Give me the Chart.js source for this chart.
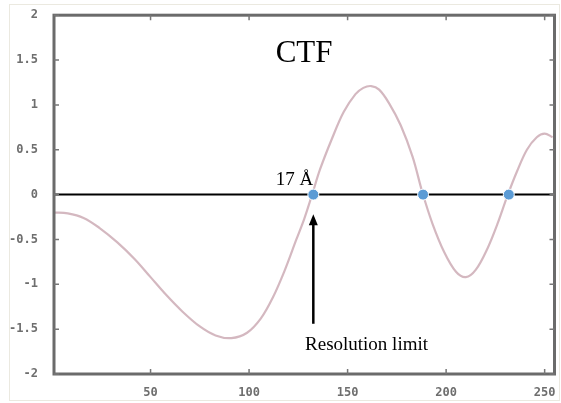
<!DOCTYPE html>
<html>
<head>
<meta charset="utf-8">
<script src="https://cdn.jsdelivr.net/npm/chart.js@4"></script>
<style>
html,body{margin:0;padding:0;background:#fff;}
#wrap{width:561px;height:403px;position:relative;}
</style>
</head>
<body>
<div id="wrap"><canvas id="c" width="561" height="403"></canvas></div>
<script>
// ---- data ----
const freqX = [1, 8, 16, 24, 33, 42, 50, 58, 66, 75, 83, 91, 99, 106, 112, 118, 124, 128, 132, 136, 142, 148, 154, 158, 162, 166, 171, 177, 183, 188, 193, 199, 205, 210, 215, 221, 226, 231, 236, 241, 246, 250, 254];
const ctfY  = [-0.20, -0.21, -0.26, -0.37, -0.53, -0.72, -0.92, -1.12, -1.30, -1.47, -1.57, -1.60, -1.54, -1.38, -1.15, -0.85, -0.50, -0.27, 0.0, 0.28, 0.62, 0.92, 1.12, 1.19, 1.21, 1.17, 1.02, 0.77, 0.42, 0.02, -0.32, -0.64, -0.86, -0.92, -0.84, -0.60, -0.33, -0.02, 0.26, 0.50, 0.64, 0.68, 0.64];
const zeroCrossX = [132.6, 188.3, 231.8];
const xTickValues = [50, 100, 150, 200, 250];
const yTickValues = [-2, -1.5, -1, -0.5, 0, 0.5, 1, 1.5, 2];
const xRange = [1, 255];
const yRange = [-2, 2];
const titleText = 'CTF';
const resLabel = '17 Å';
const arrowLabel = 'Resolution limit';
const arrowX = 132.6;
const arrowFromY = -1.44;
const arrowToY = -0.22;

const curve = freqX.map((x, i) => ({x: x, y: ctfY[i]}));
const zeroLine = [{x: xRange[0], y: 0}, {x: xRange[1], y: 0}];
const zeroPts = zeroCrossX.map(x => ({x: x, y: 0}));

const framePlugin = {
  id: 'frame',
  beforeDraw(chart) {
    const ctx = chart.ctx;
    ctx.save();
    ctx.fillStyle = '#fff';
    ctx.fillRect(0, 0, chart.width, chart.height);
    ctx.strokeStyle = '#ebe9e0';
    ctx.lineWidth = 1;
    ctx.strokeRect(9.5, 4.5, 550, 396);
    ctx.restore();
  },
  afterDatasetsDraw(chart) {
    const ctx = chart.ctx;
    const a = chart.chartArea;
    const xs = chart.scales.x, ys = chart.scales.y;
    ctx.save();
    ctx.strokeStyle = '#6b6b6b';
    ctx.lineWidth = 3;
    ctx.strokeRect(a.left, a.top, a.right - a.left, a.bottom - a.top);
    ctx.lineWidth = 1.5;
    ctx.strokeStyle = '#777';
    ctx.beginPath();
    xTickValues.forEach(v => {
      const px = xs.getPixelForValue(v);
      ctx.moveTo(px, a.bottom); ctx.lineTo(px, a.bottom - 5);
      ctx.moveTo(px, a.top); ctx.lineTo(px, a.top + 5);
    });
    yTickValues.forEach(v => {
      const py = ys.getPixelForValue(v);
      ctx.moveTo(a.left, py); ctx.lineTo(a.left + 5, py);
      ctx.moveTo(a.right, py); ctx.lineTo(a.right - 5, py);
    });
    ctx.stroke();

    // annotations
    ctx.fillStyle = '#000';
    ctx.textBaseline = 'alphabetic';
    ctx.font = '31px "Liberation Serif", "Times New Roman", serif';
    ctx.textAlign = 'center';
    ctx.fillText(titleText, xs.getPixelForValue(127.9), ys.getPixelForValue(1.48));
    ctx.font = '19px "Liberation Serif", "Times New Roman", serif';
    ctx.textAlign = 'right';
    ctx.fillText(resLabel, xs.getPixelForValue(132.5), ys.getPixelForValue(0.11));
    ctx.textAlign = 'left';
    ctx.fillText(arrowLabel, xs.getPixelForValue(128.4), ys.getPixelForValue(-1.735));

    // arrow
    const ax = xs.getPixelForValue(arrowX);
    const y0 = ys.getPixelForValue(arrowFromY);
    const y1 = ys.getPixelForValue(arrowToY);
    ctx.strokeStyle = '#000';
    ctx.lineWidth = 2.5;
    ctx.beginPath();
    ctx.moveTo(ax, y0); ctx.lineTo(ax, y1 + 8);
    ctx.stroke();
    ctx.beginPath();
    ctx.moveTo(ax, y1);
    ctx.lineTo(ax - 4.5, y1 + 11);
    ctx.lineTo(ax + 4.5, y1 + 11);
    ctx.closePath();
    ctx.fill();
    ctx.restore();
  }
};

new Chart(document.getElementById('c'), {
  type: 'scatter',
  data: {
    datasets: [
      {
        data: zeroLine, showLine: true, borderColor: '#000', borderWidth: 2,
        pointRadius: 0, order: 2
      },
      {
        data: curve, showLine: true, borderColor: 'rgba(205,172,181,0.85)', borderWidth: 2.2,
        pointRadius: 0, tension: 0.35, order: 3
      },
      {
        data: zeroPts, showLine: false, pointRadius: 5.5, pointBackgroundColor: '#5b9bd5',
        pointBorderColor: '#ffffff', pointBorderWidth: 1, order: 1
      }
    ]
  },
  options: {
    responsive: false,
    animation: false,
    events: [],
    layout: {padding: {top: 12, right: 4, left: 0, bottom: 0}},
    plugins: {legend: {display: false}, tooltip: {enabled: false}},
    scales: {
      x: {
        type: 'linear', min: xRange[0], max: xRange[1],
        afterBuildTicks(s) { s.ticks = xTickValues.map(v => ({value: v})); },
        afterFit(s) { s.height = 29; },
        grid: {display: false}, border: {display: false},
        ticks: {
          color: '#6e6e6e', padding: 4, maxRotation: 0,
          font: {family: '"DejaVu Sans Mono", monospace', size: 12, weight: 'bold'},
          callback: v => String(v)
        }
      },
      y: {
        type: 'linear', min: yRange[0], max: yRange[1],
        afterBuildTicks(s) { s.ticks = yTickValues.map(v => ({value: v})); },
        afterFit(s) { s.width = 54; },
        grid: {display: false}, border: {display: false},
        ticks: {
          color: '#6e6e6e', padding: 8,
          font: {family: '"DejaVu Sans Mono", monospace', size: 12, weight: 'bold'},
          callback: v => String(v)
        }
      }
    }
  },
  plugins: [framePlugin]
});
</script>
</body>
</html>
